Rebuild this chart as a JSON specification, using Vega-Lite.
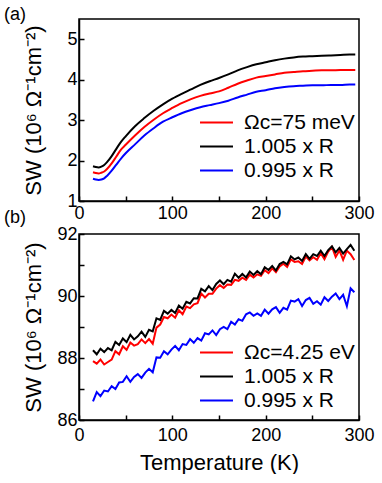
{
"$schema": "https://vega.github.io/schema/vega-lite/v6.json",
"padding": {"left": 3, "top": 5, "right": 0, "bottom": 0},
"background": "white",
"config": {
  "font": "Liberation Sans",
  "view": {"stroke": "black", "strokeWidth": 1.5},
  "axis": {"domainColor": "black", "domainWidth": 1.5, "tickColor": "black", "tickWidth": 1.5, "tickSize": -5, "labelFontSize": 18, "labelColor": "black", "titleFontSize": 22, "titleFontWeight": "normal", "titleColor": "black", "grid": false, "labelFlush": false, "labelOverlap": false},
  "axisX": {"labelPadding": 9},
  "axisY": {"labelPadding": 7},
  "legend": {"orient": "none", "labelFontSize": 21, "labelColor": "black", "symbolType": "M-2,0H2", "symbolStrokeWidth": 2, "symbolSize": 272, "rowPadding": 2, "labelOffset": 17, "padding": 0},
  "title": {"fontSize": 18, "fontWeight": "normal", "anchor": "start", "frame": "group", "dx": -75, "color": "black"}
},
"datasets": {
"a": [
{"T":15,"SW":1.71,"s":"Ωc=75 meV"},{"T":18,"SW":1.69,"s":"Ωc=75 meV"},{"T":21,"SW":1.68,"s":"Ωc=75 meV"},{"T":24,"SW":1.70,"s":"Ωc=75 meV"},{"T":27,"SW":1.73,"s":"Ωc=75 meV"},{"T":30,"SW":1.79,"s":"Ωc=75 meV"},{"T":35,"SW":1.93,"s":"Ωc=75 meV"},{"T":40,"SW":2.10,"s":"Ωc=75 meV"},{"T":45,"SW":2.27,"s":"Ωc=75 meV"},{"T":50,"SW":2.39,"s":"Ωc=75 meV"},{"T":60,"SW":2.62,"s":"Ωc=75 meV"},{"T":70,"SW":2.83,"s":"Ωc=75 meV"},{"T":80,"SW":3.01,"s":"Ωc=75 meV"},{"T":90,"SW":3.17,"s":"Ωc=75 meV"},{"T":100,"SW":3.30,"s":"Ωc=75 meV"},{"T":110,"SW":3.42,"s":"Ωc=75 meV"},{"T":120,"SW":3.52,"s":"Ωc=75 meV"},{"T":130,"SW":3.60,"s":"Ωc=75 meV"},{"T":140,"SW":3.66,"s":"Ωc=75 meV"},{"T":150,"SW":3.71,"s":"Ωc=75 meV"},{"T":160,"SW":3.80,"s":"Ωc=75 meV"},{"T":170,"SW":3.90,"s":"Ωc=75 meV"},{"T":180,"SW":3.98,"s":"Ωc=75 meV"},{"T":190,"SW":4.05,"s":"Ωc=75 meV"},{"T":200,"SW":4.09,"s":"Ωc=75 meV"},{"T":210,"SW":4.13,"s":"Ωc=75 meV"},{"T":220,"SW":4.17,"s":"Ωc=75 meV"},{"T":230,"SW":4.19,"s":"Ωc=75 meV"},{"T":240,"SW":4.21,"s":"Ωc=75 meV"},{"T":250,"SW":4.22,"s":"Ωc=75 meV"},{"T":260,"SW":4.23,"s":"Ωc=75 meV"},{"T":270,"SW":4.23,"s":"Ωc=75 meV"},{"T":280,"SW":4.24,"s":"Ωc=75 meV"},{"T":290,"SW":4.24,"s":"Ωc=75 meV"},{"T":296,"SW":4.24,"s":"Ωc=75 meV"},
{"T":15,"SW":1.86,"s":"1.005 x R"},{"T":18,"SW":1.84,"s":"1.005 x R"},{"T":21,"SW":1.83,"s":"1.005 x R"},{"T":24,"SW":1.85,"s":"1.005 x R"},{"T":27,"SW":1.89,"s":"1.005 x R"},{"T":30,"SW":1.96,"s":"1.005 x R"},{"T":35,"SW":2.11,"s":"1.005 x R"},{"T":40,"SW":2.29,"s":"1.005 x R"},{"T":45,"SW":2.46,"s":"1.005 x R"},{"T":50,"SW":2.60,"s":"1.005 x R"},{"T":60,"SW":2.85,"s":"1.005 x R"},{"T":70,"SW":3.05,"s":"1.005 x R"},{"T":80,"SW":3.23,"s":"1.005 x R"},{"T":90,"SW":3.39,"s":"1.005 x R"},{"T":100,"SW":3.53,"s":"1.005 x R"},{"T":110,"SW":3.65,"s":"1.005 x R"},{"T":120,"SW":3.76,"s":"1.005 x R"},{"T":130,"SW":3.87,"s":"1.005 x R"},{"T":140,"SW":3.96,"s":"1.005 x R"},{"T":150,"SW":4.04,"s":"1.005 x R"},{"T":160,"SW":4.13,"s":"1.005 x R"},{"T":170,"SW":4.23,"s":"1.005 x R"},{"T":180,"SW":4.31,"s":"1.005 x R"},{"T":190,"SW":4.38,"s":"1.005 x R"},{"T":200,"SW":4.43,"s":"1.005 x R"},{"T":210,"SW":4.48,"s":"1.005 x R"},{"T":220,"SW":4.52,"s":"1.005 x R"},{"T":230,"SW":4.55,"s":"1.005 x R"},{"T":240,"SW":4.57,"s":"1.005 x R"},{"T":250,"SW":4.58,"s":"1.005 x R"},{"T":260,"SW":4.59,"s":"1.005 x R"},{"T":270,"SW":4.60,"s":"1.005 x R"},{"T":280,"SW":4.61,"s":"1.005 x R"},{"T":290,"SW":4.62,"s":"1.005 x R"},{"T":296,"SW":4.62,"s":"1.005 x R"},
{"T":15,"SW":1.55,"s":"0.995 x R"},{"T":18,"SW":1.53,"s":"0.995 x R"},{"T":21,"SW":1.52,"s":"0.995 x R"},{"T":24,"SW":1.53,"s":"0.995 x R"},{"T":27,"SW":1.56,"s":"0.995 x R"},{"T":30,"SW":1.62,"s":"0.995 x R"},{"T":35,"SW":1.75,"s":"0.995 x R"},{"T":40,"SW":1.90,"s":"0.995 x R"},{"T":45,"SW":2.05,"s":"0.995 x R"},{"T":50,"SW":2.18,"s":"0.995 x R"},{"T":60,"SW":2.40,"s":"0.995 x R"},{"T":70,"SW":2.62,"s":"0.995 x R"},{"T":80,"SW":2.80,"s":"0.995 x R"},{"T":90,"SW":2.96,"s":"0.995 x R"},{"T":100,"SW":3.07,"s":"0.995 x R"},{"T":110,"SW":3.17,"s":"0.995 x R"},{"T":120,"SW":3.25,"s":"0.995 x R"},{"T":130,"SW":3.32,"s":"0.995 x R"},{"T":140,"SW":3.37,"s":"0.995 x R"},{"T":150,"SW":3.42,"s":"0.995 x R"},{"T":160,"SW":3.48,"s":"0.995 x R"},{"T":170,"SW":3.56,"s":"0.995 x R"},{"T":180,"SW":3.63,"s":"0.995 x R"},{"T":190,"SW":3.70,"s":"0.995 x R"},{"T":200,"SW":3.74,"s":"0.995 x R"},{"T":210,"SW":3.79,"s":"0.995 x R"},{"T":220,"SW":3.82,"s":"0.995 x R"},{"T":230,"SW":3.84,"s":"0.995 x R"},{"T":240,"SW":3.85,"s":"0.995 x R"},{"T":250,"SW":3.86,"s":"0.995 x R"},{"T":260,"SW":3.86,"s":"0.995 x R"},{"T":270,"SW":3.87,"s":"0.995 x R"},{"T":280,"SW":3.87,"s":"0.995 x R"},{"T":290,"SW":3.88,"s":"0.995 x R"},{"T":296,"SW":3.88,"s":"0.995 x R"}
],
"b": [
{"T":15,"SW":87.90,"s":"Ωc=4.25 eV"},{"T":19,"SW":87.82,"s":"Ωc=4.25 eV"},{"T":23,"SW":87.95,"s":"Ωc=4.25 eV"},{"T":27,"SW":87.79,"s":"Ωc=4.25 eV"},{"T":31,"SW":87.87,"s":"Ωc=4.25 eV"},{"T":35,"SW":87.95,"s":"Ωc=4.25 eV"},{"T":39,"SW":88.22,"s":"Ωc=4.25 eV"},{"T":43,"SW":88.12,"s":"Ωc=4.25 eV"},{"T":47,"SW":88.38,"s":"Ωc=4.25 eV"},{"T":51,"SW":88.26,"s":"Ωc=4.25 eV"},{"T":55,"SW":88.50,"s":"Ωc=4.25 eV"},{"T":59,"SW":88.40,"s":"Ωc=4.25 eV"},{"T":63,"SW":88.45,"s":"Ωc=4.25 eV"},{"T":67,"SW":88.60,"s":"Ωc=4.25 eV"},{"T":71,"SW":88.48,"s":"Ωc=4.25 eV"},{"T":75,"SW":88.61,"s":"Ωc=4.25 eV"},{"T":79,"SW":88.46,"s":"Ωc=4.25 eV"},{"T":83,"SW":88.98,"s":"Ωc=4.25 eV"},{"T":87,"SW":89.08,"s":"Ωc=4.25 eV"},{"T":91,"SW":89.32,"s":"Ωc=4.25 eV"},{"T":95,"SW":89.28,"s":"Ωc=4.25 eV"},{"T":99,"SW":89.40,"s":"Ωc=4.25 eV"},{"T":103,"SW":89.30,"s":"Ωc=4.25 eV"},{"T":107,"SW":89.54,"s":"Ωc=4.25 eV"},{"T":111,"SW":89.41,"s":"Ωc=4.25 eV"},{"T":115,"SW":89.66,"s":"Ωc=4.25 eV"},{"T":119,"SW":89.61,"s":"Ωc=4.25 eV"},{"T":123,"SW":89.73,"s":"Ωc=4.25 eV"},{"T":127,"SW":89.77,"s":"Ωc=4.25 eV"},{"T":131,"SW":90.08,"s":"Ωc=4.25 eV"},{"T":135,"SW":89.95,"s":"Ωc=4.25 eV"},{"T":139,"SW":90.07,"s":"Ωc=4.25 eV"},{"T":143,"SW":90.07,"s":"Ωc=4.25 eV"},{"T":147,"SW":90.24,"s":"Ωc=4.25 eV"},{"T":151,"SW":90.35,"s":"Ωc=4.25 eV"},{"T":155,"SW":90.26,"s":"Ωc=4.25 eV"},{"T":159,"SW":90.37,"s":"Ωc=4.25 eV"},{"T":163,"SW":90.36,"s":"Ωc=4.25 eV"},{"T":167,"SW":90.52,"s":"Ωc=4.25 eV"},{"T":171,"SW":90.49,"s":"Ωc=4.25 eV"},{"T":175,"SW":90.59,"s":"Ωc=4.25 eV"},{"T":179,"SW":90.52,"s":"Ωc=4.25 eV"},{"T":183,"SW":90.69,"s":"Ωc=4.25 eV"},{"T":187,"SW":90.60,"s":"Ωc=4.25 eV"},{"T":191,"SW":90.70,"s":"Ωc=4.25 eV"},{"T":195,"SW":90.65,"s":"Ωc=4.25 eV"},{"T":199,"SW":90.83,"s":"Ωc=4.25 eV"},{"T":203,"SW":90.74,"s":"Ωc=4.25 eV"},{"T":207,"SW":90.89,"s":"Ωc=4.25 eV"},{"T":211,"SW":90.77,"s":"Ωc=4.25 eV"},{"T":215,"SW":90.95,"s":"Ωc=4.25 eV"},{"T":219,"SW":91.04,"s":"Ωc=4.25 eV"},{"T":223,"SW":90.94,"s":"Ωc=4.25 eV"},{"T":227,"SW":91.18,"s":"Ωc=4.25 eV"},{"T":231,"SW":91.10,"s":"Ωc=4.25 eV"},{"T":235,"SW":91.12,"s":"Ωc=4.25 eV"},{"T":239,"SW":91.03,"s":"Ωc=4.25 eV"},{"T":243,"SW":91.27,"s":"Ωc=4.25 eV"},{"T":247,"SW":91.15,"s":"Ωc=4.25 eV"},{"T":251,"SW":91.25,"s":"Ωc=4.25 eV"},{"T":255,"SW":91.17,"s":"Ωc=4.25 eV"},{"T":259,"SW":91.38,"s":"Ωc=4.25 eV"},{"T":263,"SW":91.19,"s":"Ωc=4.25 eV"},{"T":267,"SW":91.43,"s":"Ωc=4.25 eV"},{"T":271,"SW":91.58,"s":"Ωc=4.25 eV"},{"T":275,"SW":91.26,"s":"Ωc=4.25 eV"},{"T":279,"SW":91.47,"s":"Ωc=4.25 eV"},{"T":283,"SW":91.17,"s":"Ωc=4.25 eV"},{"T":287,"SW":91.46,"s":"Ωc=4.25 eV"},{"T":291,"SW":91.35,"s":"Ωc=4.25 eV"},{"T":295,"SW":91.16,"s":"Ωc=4.25 eV"},
{"T":15,"SW":88.25,"s":"1.005 x R"},{"T":19,"SW":88.12,"s":"1.005 x R"},{"T":23,"SW":88.30,"s":"1.005 x R"},{"T":27,"SW":88.19,"s":"1.005 x R"},{"T":31,"SW":88.32,"s":"1.005 x R"},{"T":35,"SW":88.25,"s":"1.005 x R"},{"T":39,"SW":88.52,"s":"1.005 x R"},{"T":43,"SW":88.42,"s":"1.005 x R"},{"T":47,"SW":88.63,"s":"1.005 x R"},{"T":51,"SW":88.51,"s":"1.005 x R"},{"T":55,"SW":88.75,"s":"1.005 x R"},{"T":59,"SW":88.60,"s":"1.005 x R"},{"T":63,"SW":88.70,"s":"1.005 x R"},{"T":67,"SW":88.85,"s":"1.005 x R"},{"T":71,"SW":88.68,"s":"1.005 x R"},{"T":75,"SW":88.91,"s":"1.005 x R"},{"T":79,"SW":88.86,"s":"1.005 x R"},{"T":83,"SW":89.28,"s":"1.005 x R"},{"T":87,"SW":89.23,"s":"1.005 x R"},{"T":91,"SW":89.52,"s":"1.005 x R"},{"T":95,"SW":89.43,"s":"1.005 x R"},{"T":99,"SW":89.55,"s":"1.005 x R"},{"T":103,"SW":89.45,"s":"1.005 x R"},{"T":107,"SW":89.69,"s":"1.005 x R"},{"T":111,"SW":89.59,"s":"1.005 x R"},{"T":115,"SW":89.81,"s":"1.005 x R"},{"T":119,"SW":89.76,"s":"1.005 x R"},{"T":123,"SW":89.93,"s":"1.005 x R"},{"T":127,"SW":89.92,"s":"1.005 x R"},{"T":131,"SW":90.23,"s":"1.005 x R"},{"T":135,"SW":90.15,"s":"1.005 x R"},{"T":139,"SW":90.32,"s":"1.005 x R"},{"T":143,"SW":90.19,"s":"1.005 x R"},{"T":147,"SW":90.39,"s":"1.005 x R"},{"T":151,"SW":90.50,"s":"1.005 x R"},{"T":155,"SW":90.38,"s":"1.005 x R"},{"T":159,"SW":90.52,"s":"1.005 x R"},{"T":163,"SW":90.46,"s":"1.005 x R"},{"T":167,"SW":90.72,"s":"1.005 x R"},{"T":171,"SW":90.59,"s":"1.005 x R"},{"T":175,"SW":90.71,"s":"1.005 x R"},{"T":179,"SW":90.60,"s":"1.005 x R"},{"T":183,"SW":90.79,"s":"1.005 x R"},{"T":187,"SW":90.68,"s":"1.005 x R"},{"T":191,"SW":90.80,"s":"1.005 x R"},{"T":195,"SW":90.70,"s":"1.005 x R"},{"T":199,"SW":90.93,"s":"1.005 x R"},{"T":203,"SW":90.84,"s":"1.005 x R"},{"T":207,"SW":90.97,"s":"1.005 x R"},{"T":211,"SW":90.82,"s":"1.005 x R"},{"T":215,"SW":91.03,"s":"1.005 x R"},{"T":219,"SW":91.10,"s":"1.005 x R"},{"T":223,"SW":91.02,"s":"1.005 x R"},{"T":227,"SW":91.28,"s":"1.005 x R"},{"T":231,"SW":91.18,"s":"1.005 x R"},{"T":235,"SW":91.24,"s":"1.005 x R"},{"T":239,"SW":91.13,"s":"1.005 x R"},{"T":243,"SW":91.35,"s":"1.005 x R"},{"T":247,"SW":91.20,"s":"1.005 x R"},{"T":251,"SW":91.35,"s":"1.005 x R"},{"T":255,"SW":91.29,"s":"1.005 x R"},{"T":259,"SW":91.46,"s":"1.005 x R"},{"T":263,"SW":91.29,"s":"1.005 x R"},{"T":267,"SW":91.48,"s":"1.005 x R"},{"T":271,"SW":91.60,"s":"1.005 x R"},{"T":275,"SW":91.41,"s":"1.005 x R"},{"T":279,"SW":91.55,"s":"1.005 x R"},{"T":283,"SW":91.37,"s":"1.005 x R"},{"T":287,"SW":91.51,"s":"1.005 x R"},{"T":291,"SW":91.65,"s":"1.005 x R"},{"T":295,"SW":91.46,"s":"1.005 x R"},
{"T":15,"SW":86.60,"s":"0.995 x R"},{"T":19,"SW":86.90,"s":"0.995 x R"},{"T":23,"SW":86.77,"s":"0.995 x R"},{"T":27,"SW":86.95,"s":"0.995 x R"},{"T":31,"SW":86.92,"s":"0.995 x R"},{"T":35,"SW":87.09,"s":"0.995 x R"},{"T":39,"SW":87.00,"s":"0.995 x R"},{"T":43,"SW":87.21,"s":"0.995 x R"},{"T":47,"SW":87.23,"s":"0.995 x R"},{"T":51,"SW":87.41,"s":"0.995 x R"},{"T":55,"SW":87.23,"s":"0.995 x R"},{"T":59,"SW":87.39,"s":"0.995 x R"},{"T":63,"SW":87.48,"s":"0.995 x R"},{"T":67,"SW":87.36,"s":"0.995 x R"},{"T":71,"SW":87.53,"s":"0.995 x R"},{"T":75,"SW":87.65,"s":"0.995 x R"},{"T":79,"SW":87.54,"s":"0.995 x R"},{"T":83,"SW":88.02,"s":"0.995 x R"},{"T":87,"SW":88.01,"s":"0.995 x R"},{"T":91,"SW":88.22,"s":"0.995 x R"},{"T":95,"SW":88.12,"s":"0.995 x R"},{"T":99,"SW":88.27,"s":"0.995 x R"},{"T":103,"SW":88.39,"s":"0.995 x R"},{"T":107,"SW":88.25,"s":"0.995 x R"},{"T":111,"SW":88.45,"s":"0.995 x R"},{"T":115,"SW":88.42,"s":"0.995 x R"},{"T":119,"SW":88.61,"s":"0.995 x R"},{"T":123,"SW":88.49,"s":"0.995 x R"},{"T":127,"SW":88.64,"s":"0.995 x R"},{"T":131,"SW":88.56,"s":"0.995 x R"},{"T":135,"SW":88.80,"s":"0.995 x R"},{"T":139,"SW":88.76,"s":"0.995 x R"},{"T":143,"SW":88.89,"s":"0.995 x R"},{"T":147,"SW":88.74,"s":"0.995 x R"},{"T":151,"SW":88.93,"s":"0.995 x R"},{"T":155,"SW":89.00,"s":"0.995 x R"},{"T":159,"SW":88.93,"s":"0.995 x R"},{"T":163,"SW":89.17,"s":"0.995 x R"},{"T":167,"SW":89.08,"s":"0.995 x R"},{"T":171,"SW":89.25,"s":"0.995 x R"},{"T":175,"SW":89.20,"s":"0.995 x R"},{"T":179,"SW":89.41,"s":"0.995 x R"},{"T":183,"SW":89.47,"s":"0.995 x R"},{"T":187,"SW":89.36,"s":"0.995 x R"},{"T":191,"SW":89.44,"s":"0.995 x R"},{"T":195,"SW":89.36,"s":"0.995 x R"},{"T":199,"SW":89.56,"s":"0.995 x R"},{"T":203,"SW":89.43,"s":"0.995 x R"},{"T":207,"SW":89.57,"s":"0.995 x R"},{"T":211,"SW":89.64,"s":"0.995 x R"},{"T":215,"SW":89.46,"s":"0.995 x R"},{"T":219,"SW":89.62,"s":"0.995 x R"},{"T":223,"SW":89.56,"s":"0.995 x R"},{"T":227,"SW":89.85,"s":"0.995 x R"},{"T":231,"SW":89.82,"s":"0.995 x R"},{"T":235,"SW":89.90,"s":"0.995 x R"},{"T":239,"SW":89.68,"s":"0.995 x R"},{"T":243,"SW":89.87,"s":"0.995 x R"},{"T":247,"SW":89.94,"s":"0.995 x R"},{"T":251,"SW":89.75,"s":"0.995 x R"},{"T":255,"SW":89.83,"s":"0.995 x R"},{"T":259,"SW":89.72,"s":"0.995 x R"},{"T":263,"SW":89.96,"s":"0.995 x R"},{"T":267,"SW":89.84,"s":"0.995 x R"},{"T":271,"SW":89.98,"s":"0.995 x R"},{"T":275,"SW":90.08,"s":"0.995 x R"},{"T":279,"SW":89.90,"s":"0.995 x R"},{"T":283,"SW":90.04,"s":"0.995 x R"},{"T":287,"SW":89.67,"s":"0.995 x R"},{"T":291,"SW":90.25,"s":"0.995 x R"},{"T":295,"SW":90.12,"s":"0.995 x R"}
]
},
"spacing": 33,
"bounds": "flush",
"resolve": {"scale": {"color": "independent"}},
"vconcat": [
{
  "title": {"text": "(a)", "offset": -5},
  "width": 280, "height": 182,
  "data": {"name": "a"},
  "mark": {"type": "line", "strokeWidth": 2, "interpolate": "monotone"},
  "encoding": {
    "x": {"field": "T", "type": "quantitative", "scale": {"domain": [0, 300], "nice": false}, "axis": {"values": [0, 50, 100, 150, 200, 250, 300], "labelExpr": "datum.value % 100 == 0 ? datum.label : ''", "title": null, "labelPadding": 8}},
    "y": {"field": "SW", "type": "quantitative", "scale": {"domain": [1, 5.5], "nice": false, "zero": false}, "axis": {"values": [1, 2, 3, 4, 5], "title": "SW (10⁶ Ω⁻¹cm⁻²)", "titlePadding": 21}},
    "color": {"field": "s", "type": "nominal", "sort": null, "scale": {"domain": ["Ωc=75 meV", "1.005 x R", "0.995 x R"], "range": ["#ff0000", "#000000", "#0000ff"]}, "legend": {"title": null, "legendX": 127, "legendY": 93}}
  }
},
{
  "title": {"text": "(b)", "offset": -2},
  "width": 280, "height": 186,
  "data": {"name": "b"},
  "mark": {"type": "line", "strokeWidth": 2},
  "encoding": {
    "x": {"field": "T", "type": "quantitative", "scale": {"domain": [0, 300], "nice": false}, "axis": {"values": [0, 50, 100, 150, 200, 250, 300], "labelExpr": "datum.value % 100 == 0 ? datum.label : ''", "title": "Temperature (K)", "titlePadding": 8, "labelPadding": 11}},
    "y": {"field": "SW", "type": "quantitative", "scale": {"domain": [86, 92], "nice": false, "zero": false}, "axis": {"values": [86, 87, 88, 89, 90, 91, 92], "labelExpr": "datum.value % 2 == 0 ? datum.label : ''", "title": "SW (10⁶ Ω⁻¹cm⁻²)", "titlePadding": 11}},
    "color": {"field": "s", "type": "nominal", "sort": null, "scale": {"domain": ["Ωc=4.25 eV", "1.005 x R", "0.995 x R"], "range": ["#ff0000", "#000000", "#0000ff"]}, "legend": {"title": null, "legendX": 127, "legendY": 108}}
  }
}
]
}
